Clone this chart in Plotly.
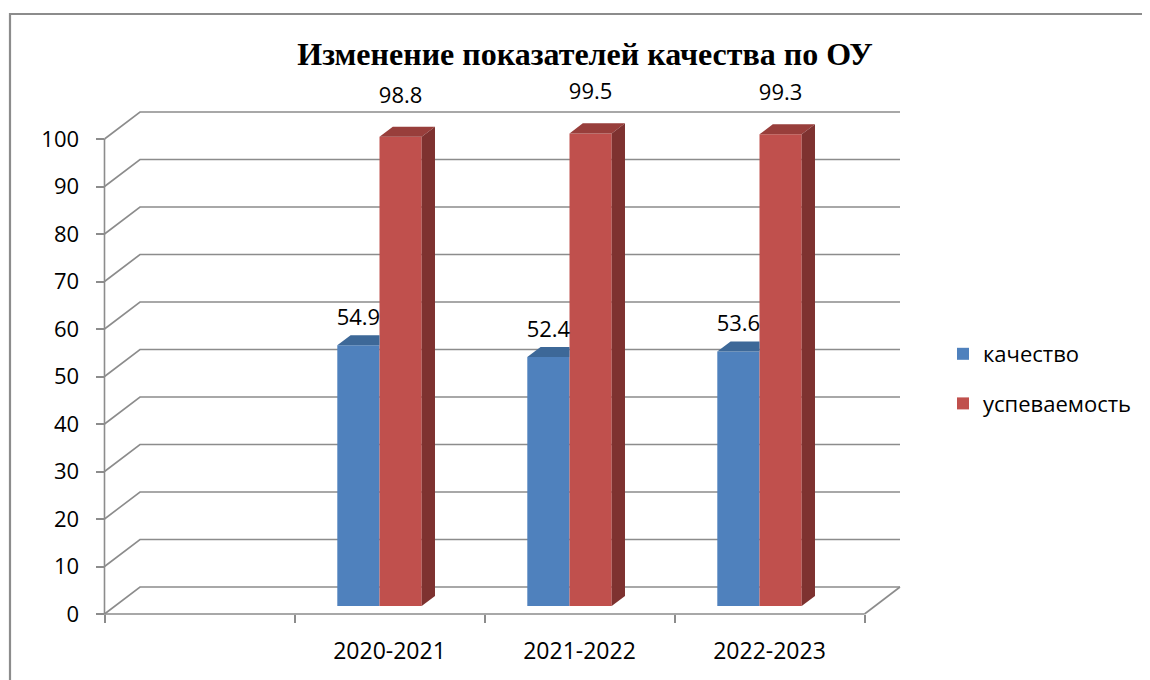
import plotly.graph_objects as go

# ---------------- data ----------------
categories = ["", "2020-2021", "2021-2022", "2022-2023"]
series_names = ["качество", "успеваемость"]
quality = [None, 54.9, 52.4, 53.6]
progress = [None, 98.8, 99.5, 99.3]
y_ticks = [0, 10, 20, 30, 40, 50, 60, 70, 80, 90, 100]
title_text = "Изменение показателей качества по ОУ"

# ---------------- layout constants (screen pixels) ----------------
OX, OY = 8, 8                # page body margin
W, H = 1150 - OX, 680 - OY
PX0, PX1 = 104.5, 864.5      # front plane, x extent
PY0, PY100 = 614.0, 139.0    # front plane, y of 0 and of 100
ncat = len(categories)
sx = (PX1 - PX0) / ncat
sy = (PY0 - PY100) / 100.0

def fx(px):
    return (px - OX) / W

def fy(py):
    return 1 - (py - OY) / H

# wall depth and bar geometry (converted to data units)
WDX, WDY = 35.5 / sx, 27.0 / sy
BDX, BDY = 13.3 / sx, 10.0 / sy
BASE = 8.0 / sy
BW = 42.2 / sx
OFFS = [42.8 / sx, 42.8 / sx + BW]
LABEL_GAP = [16.0 / sy, 29.5 / sy]

FRONT = ["#4F81BD", "#C0504D"]
TOP = ["#3D6898", "#983E3B"]
SIDE = ["#2F5179", "#7E3230"]
GRID = "#8C8C8C"
FONT = "Open Sans"

# data axes domain (screen pixels)
DX0, DX1, DYT, DYB = 95.0, 1140.0, 60.0, 640.0
xr = [(DX0 - PX0) / sx, (DX1 - PX0) / sx]
yr = [(PY0 - DYB) / sy, (PY0 - DYT) / sy]

fig = go.Figure()

# back wall / floor gridlines
gx, gy = [], []
for v in y_ticks:
    gx += [0, WDX, ncat + WDX, None]
    gy += [v, v + WDY, v + WDY, None]
gx += [ncat, ncat + WDX, None]
gy += [0, WDY, None]
fig.add_trace(go.Scatter(x=gx, y=gy, mode="lines", line=dict(color=GRID, width=1.6),
                         hoverinfo="skip", showlegend=False, zorder=0))
# front axis lines (value axis and category axis)
fig.add_trace(go.Scatter(x=[0, 0, ncat], y=[y_ticks[-1], 0, 0], mode="lines",
                         line=dict(color=GRID, width=1.6),
                         hoverinfo="skip", showlegend=False, zorder=0))

all_series = [quality, progress]
nser = len(all_series)
for s, vals in enumerate(all_series):
    xs = [i + OFFS[s] + BW / 2 for i, v in enumerate(vals) if v is not None]
    ys = [v for v in vals if v is not None]
    fig.add_trace(go.Bar(x=xs, y=ys, base=BASE, width=BW, name=series_names[s],
                         marker=dict(color=FRONT[s], line=dict(width=0)),
                         legendgroup=series_names[s], zorder=1, hoverinfo="skip"))
    tx, ty, sxs, sys_ = [], [], [], []
    last = (s == nser - 1)
    for i, v in enumerate(vals):
        if v is None:
            continue
        x0 = i + OFFS[s]
        x1 = x0 + BW
        t = BASE + v
        xr_top = x1 + BDX if last else x1
        tx += [x0, x0 + BDX, xr_top, x1, x0, None]
        ty += [t, t + BDY, t + BDY, t, t, None]
        if last:
            sxs += [x1, x1 + BDX, x1 + BDX, x1, x1, None]
            sys_ += [BASE, BASE + BDY, t + BDY, t, BASE, None]
    fig.add_trace(go.Scatter(x=tx, y=ty, mode="lines", fill="toself", fillcolor=TOP[s],
                             line=dict(width=0), hoverinfo="skip", showlegend=False, zorder=2))
    if last:
        fig.add_trace(go.Scatter(x=sxs, y=sys_, mode="lines", fill="toself", fillcolor=SIDE[s],
                                 line=dict(width=0), hoverinfo="skip", showlegend=False, zorder=2))
    fig.add_trace(go.Scatter(x=xs, y=[v + BASE + BDY + LABEL_GAP[s] for v in ys],
                             mode="text", text=[f"{v:.1f}" for v in ys],
                             textposition="middle center",
                             textfont=dict(family=FONT, size=22, color="#000000"),
                             hoverinfo="skip", showlegend=False, cliponaxis=False, zorder=3))

# invisible anchors for frame axes
fig.add_trace(go.Scatter(x=[0], y=[0], xaxis="x2", yaxis="y2", mode="markers",
                         marker=dict(opacity=0), hoverinfo="skip", showlegend=False))
fig.add_trace(go.Scatter(x=[0], y=[0], xaxis="x3", yaxis="y2", mode="markers",
                         marker=dict(opacity=0), hoverinfo="skip", showlegend=False))

cat_pos = [i + 0.5 for i, c in enumerate(categories) if c]
cat_txt = [c for c in categories if c]

fig.update_layout(
    width=W, height=H,
    margin=dict(l=0, r=0, t=0, b=0, pad=0, autoexpand=False),
    paper_bgcolor="white", plot_bgcolor="rgba(0,0,0,0)",
    barmode="overlay",
    showlegend=True,
    title=dict(text=f"<b>{title_text}</b>", x=fx(585), y=fy(54), xanchor="center", yanchor="middle",
               xref="paper", yref="paper", automargin=False,
               font=dict(family="Liberation Serif", size=32, color="#000000")),
    xaxis=dict(domain=[fx(DX0), fx(DX1)], range=xr, visible=False, fixedrange=True),
    yaxis=dict(domain=[fy(DYB), fy(DYT)], range=yr, visible=False, fixedrange=True),
    xaxis2=dict(domain=[fx(PX0), fx(PX1)], range=[0, ncat], anchor="y2",
                tickmode="array", tickvals=list(range(ncat + 1)), ticks="outside", ticklen=8,
                tickwidth=1.6, tickcolor=GRID, showline=False,
                showticklabels=False, showgrid=False, zeroline=False, fixedrange=True),
    xaxis3=dict(domain=[fx(PX0), fx(PX1)], range=[0, ncat], anchor="y2", overlaying="x2",
                tickmode="array", tickvals=cat_pos, ticktext=cat_txt, ticks="",
                ticklabelstandoff=21,
                tickfont=dict(family=FONT, size=23, color="#000000"),
                showline=False, showgrid=False, zeroline=False, fixedrange=True),
    yaxis2=dict(domain=[fy(PY0), fy(PY100)], range=[0, 100], anchor="x2",
                tickmode="array", tickvals=y_ticks, ticks="outside", ticklen=8,
                tickwidth=1.6, tickcolor=GRID, showline=False,
                ticklabelstandoff=12,
                tickfont=dict(family=FONT, size=22, color="#000000"),
                showgrid=False, zeroline=False, fixedrange=True),
    legend=dict(x=fx(943), y=fy(333), xanchor="left", yanchor="top",
                font=dict(family=FONT, size=22, color="#000000"),
                tracegroupgap=18, bgcolor="rgba(0,0,0,0)"),
    shapes=[dict(type="rect", xref="paper", yref="paper", x0=fx(10), x1=fx(1170),
                 y0=fy(14), y1=fy(700), line=dict(color="#8C8C8C", width=2.2),
                 fillcolor="rgba(0,0,0,0)", layer="below")],
)

fig.write_html("out.html")
